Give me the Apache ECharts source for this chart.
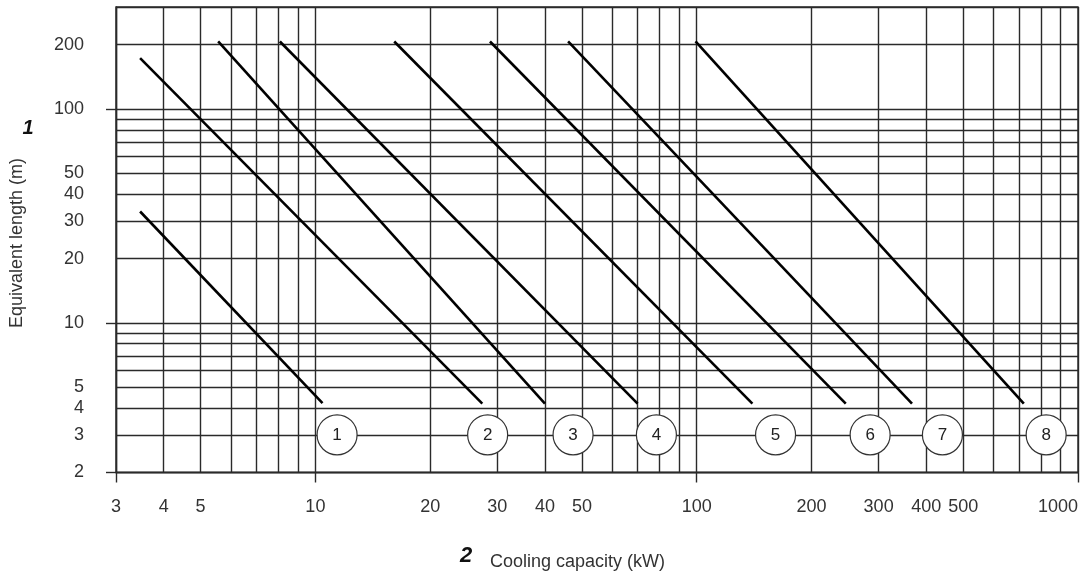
<!DOCTYPE html>
<html>
<head>
<meta charset="utf-8">
<script src="https://cdn.jsdelivr.net/npm/echarts@6/dist/echarts.min.js"></script>
<style>
html, body { margin: 0; padding: 0; background: #fff; }
#chart { width: 1089px; height: 579px; }
</style>
</head>
<body>
<div id="chart"></div>
<script>
// grid lines and tick labels
var xGrid = [3, 4, 5, 6, 7, 8, 9, 10, 20, 30, 40, 50, 60, 70, 80, 90, 100, 200, 300, 400, 500, 600, 700, 800, 900, 1000]
var yGrid = [2, 3, 4, 5, 6, 7, 8, 9, 10, 20, 30, 40, 50, 60, 70, 80, 90, 100, 200, 300]
var xLabels = [3, 4, 5, 10, 20, 30, 40, 50, 100, 200, 300, 400, 500, 1000]
var yLabels = [2, 3, 4, 5, 10, 20, 30, 40, 50, 100, 200]
var xMajor = [3, 10, 100, 1000]
var yMajor = [2, 10, 100]

// diagonal lines: [cooling capacity, equivalent length] at both ends
var line1 = [[3.47, 33.2], [10.44, 4.22]]
var line2 = [[3.47, 173], [27.4, 4.2]]
var line3 = [[5.56, 207], [40, 4.2]]
var line4 = [[8.07, 207], [70, 4.2]]
var line5 = [[16.1, 207], [140, 4.2]]
var line6 = [[28.7, 207], [246, 4.2]]
var line7 = [[46, 207], [367, 4.2]]
var line8 = [[99.3, 207], [721, 4.2]]
var lines = [line1, line2, line3, line4, line5, line6, line7, line8]

// numbered circles sit on the 3 m line
var circleX = [11.4, 28.3, 47.4, 78.4, 161, 285, 441, 825]
var circleY = 3
var circleNames = ['1', '2', '3', '4', '5', '6', '7', '8']

var font = 'Liberation Sans, Arial, sans-serif'
var gridColor = '#2a2a2a'

var chart = echarts.init(document.getElementById('chart'))

var series = lines.map(function (d, i) {
  return {
    name: 'line' + (i + 1),
    type: 'line',
    data: d,
    symbol: 'none',
    silent: true,
    lineStyle: { color: '#000', width: 2.6 },
    z: 3
  }
})
series.push({
  name: 'labels',
  type: 'scatter',
  data: circleX.map(function (x, i) {
    return { name: circleNames[i], value: [x, circleY] }
  }),
  symbolSize: 40,
  itemStyle: { color: '#fff', borderColor: '#333', borderWidth: 1.2, opacity: 1 },
  label: {
    show: true,
    position: 'inside',
    formatter: '{b}',
    color: '#222',
    fontSize: 17,
    fontFamily: font
  },
  silent: true,
  z: 4
})

// plain numbers, no thousands separator
function plain(v) {
  return String(Math.round(v))
}

chart.setOption({
  animation: false,
  grid: {
    left: 116,
    right: 11,
    top: 7,
    bottom: 106.5,
    show: true,
    borderColor: gridColor,
    borderWidth: 1.4
  },
  xAxis: [
    {
      type: 'log',
      logBase: 10,
      min: 3,
      max: 1000,
      position: 'bottom',
      axisLine: { show: true, lineStyle: { color: gridColor, width: 1.4 } },
      axisTick: { show: true, length: 10, customValues: xMajor, lineStyle: { color: gridColor, width: 1.4 } },
      axisLabel: {
        customValues: xLabels,
        formatter: plain,
        margin: 26,
        color: '#333',
        fontSize: 18,
        fontFamily: font,
        alignMaxLabel: 'right'
      },
      splitLine: { show: false }
    },
    {
      type: 'log',
      logBase: 10,
      min: 3,
      max: 1000,
      position: 'bottom',
      axisLine: { show: false },
      axisTick: { show: false, customValues: xGrid },
      axisLabel: { show: false },
      splitLine: { show: true, lineStyle: { color: gridColor, width: 1.4 } }
    }
  ],
  yAxis: [
    {
      type: 'log',
      logBase: 10,
      min: 2,
      max: 300,
      position: 'left',
      axisLine: { show: true, lineStyle: { color: gridColor, width: 1.4 } },
      axisTick: { show: true, length: 10, customValues: yMajor, lineStyle: { color: gridColor, width: 1.4 } },
      axisLabel: {
        customValues: yLabels,
        formatter: plain,
        margin: 32,
        color: '#333',
        fontSize: 18,
        fontFamily: font
      },
      splitLine: { show: false }
    },
    {
      type: 'log',
      logBase: 10,
      min: 2,
      max: 300,
      position: 'left',
      axisLine: { show: false },
      axisTick: { show: false, customValues: yGrid },
      axisLabel: { show: false },
      splitLine: { show: true, lineStyle: { color: gridColor, width: 1.4 } }
    }
  ],
  graphic: [
    {
      type: 'text',
      x: 17,
      y: 243,
      rotation: Math.PI / 2,
      style: {
        text: 'Equivalent length (m)',
        font: '18px ' + font,
        fill: '#333',
        align: 'center',
        verticalAlign: 'middle'
      }
    },
    {
      type: 'text',
      x: 28,
      y: 128,
      style: {
        text: '1',
        font: 'italic bold 20px ' + font,
        fill: '#111',
        align: 'center',
        verticalAlign: 'middle'
      }
    },
    {
      type: 'text',
      x: 466,
      y: 556,
      style: {
        text: '2',
        font: 'italic bold 22px ' + font,
        fill: '#111',
        align: 'center',
        verticalAlign: 'middle'
      }
    },
    {
      type: 'text',
      x: 490,
      y: 562,
      style: {
        text: 'Cooling capacity (kW)',
        font: '18px ' + font,
        fill: '#333',
        align: 'left',
        verticalAlign: 'middle'
      }
    }
  ],
  series: series
})
</script>
</body>
</html>
